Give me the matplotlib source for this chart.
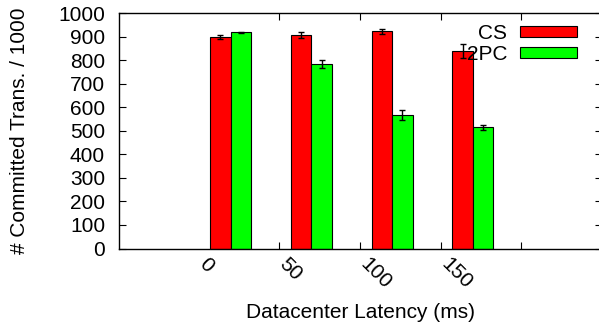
import matplotlib
matplotlib.use("Agg")
import matplotlib.pyplot as plt
import numpy as np

plt.rcParams['font.family'] = ['Liberation Sans', 'DejaVu Sans']

latency = ["0", "50", "100", "150"]
cs_vals = [898, 906, 923, 841]
cs_err = [9, 13, 9, 30]
tpc_vals = [919, 784, 567, 515]
tpc_err = [3, 17, 21, 10]

W, H = 599, 324
fs = 15
fig = plt.figure(figsize=(W / 100, H / 100), dpi=100)
ax = fig.add_axes([119 / W, 1 - 248.5 / H, (602 - 119) / W, (248.5 - 13.3) / H])

x = np.arange(len(latency))
bw = 0.255
ax.bar(x - bw / 2, cs_vals, bw, color='#ff0000', edgecolor='black', linewidth=0.8,
       label='CS', zorder=2)
ax.bar(x + bw / 2, tpc_vals, bw, color='#00ff00', edgecolor='black', linewidth=0.8,
       label='2PC', zorder=2)
ax.errorbar(x - bw / 2, cs_vals, yerr=cs_err, fmt='none', ecolor='black',
            elinewidth=1, capsize=2.5, capthick=1, zorder=3)
ax.errorbar(x + bw / 2, tpc_vals, yerr=tpc_err, fmt='none', ecolor='black',
            elinewidth=1, capsize=2.5, capthick=1, zorder=3)

ax.set_xlim(-1.385, 4.6)
ax.set_ylim(0, 1000)
ax.set_yticks(range(0, 1001, 100))
ax.tick_params(axis='y', direction='in', length=5, labelsize=fs, pad=10,
               right=True)
ax.set_xticks(x + 0.6)
ax.set_xticklabels([])
ax.tick_params(axis='x', direction='in', length=5, top=True)

# gnuplot-style rotated labels, starting left of the clusters
for i, lab in enumerate(latency):
    ax.text(i - 0.36, -55, lab, rotation=-45, rotation_mode='anchor',
            ha='left', va='center', fontsize=fs)

for s in ax.spines.values():
    s.set_linewidth(1.0)

ax.set_xlabel("Datacenter Latency (ms)", fontsize=fs, labelpad=36)
ax.set_ylabel("# Committed Trans. / 1000", fontsize=fs, labelpad=21)

leg = ax.legend(loc='upper right', bbox_to_anchor=(577 / W, 1 - 24 / H),
                bbox_transform=fig.transFigure, frameon=False, fontsize=fs,
                markerfirst=False, handlelength=2.74, handleheight=0.42,
                handletextpad=0.6, labelspacing=0.1, borderaxespad=0,
                borderpad=0)
for t in leg.get_texts():
    t.set_ha('right')

fig.savefig("out.png", dpi=100)
